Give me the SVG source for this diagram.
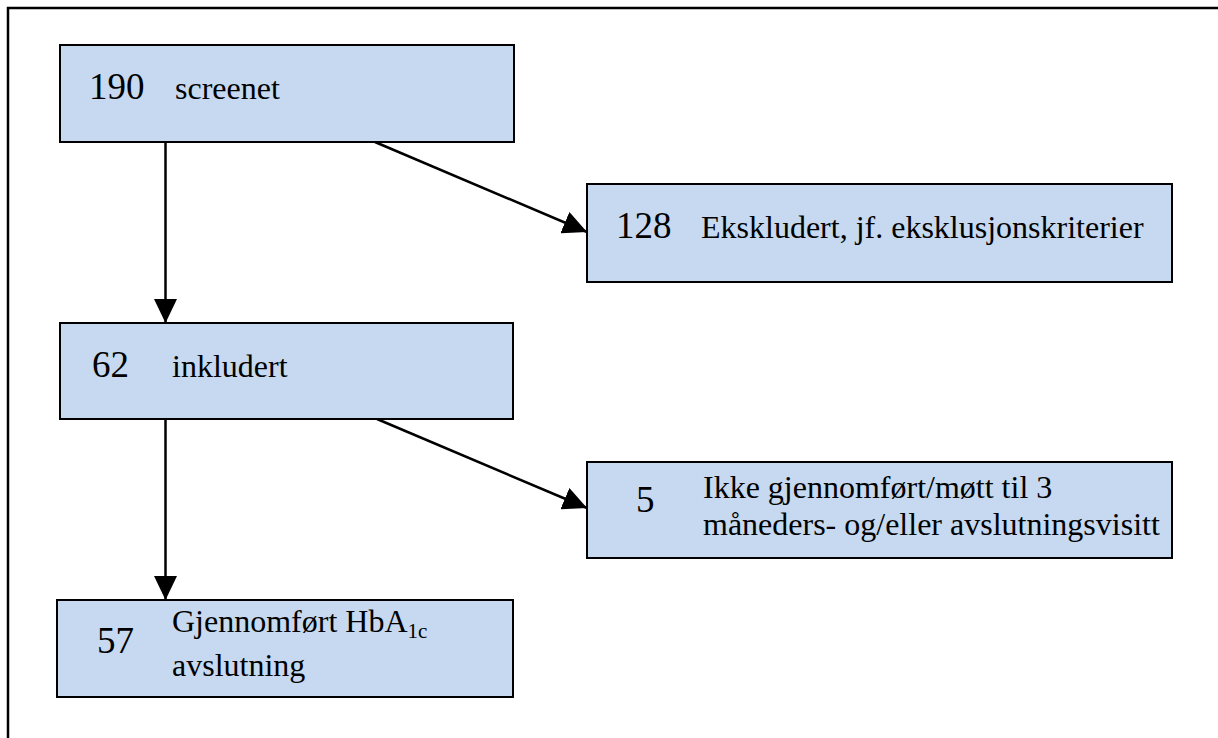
<svg xmlns="http://www.w3.org/2000/svg" width="1218" height="738" viewBox="0 0 1218 738">
<style>
.box{fill:#C6D9F0;stroke:#000;stroke-width:2}
.num{font-family:"Liberation Serif","Times New Roman",serif;font-size:37px;fill:#000}
.lbl{font-family:"Liberation Serif","Times New Roman",serif;font-size:32px;fill:#000}
.con{stroke:#000;stroke-width:2.5;fill:none}
</style>
<defs>
<marker id="arr" markerUnits="userSpaceOnUse" markerWidth="24" markerHeight="23" viewBox="0 0 24 23" refX="24" refY="11.5" orient="auto">
<path d="M0,0 L24,11.5 L0,23 Z" fill="#000"/>
</marker>
</defs>
<rect x="8" y="8" width="1240" height="760" fill="#fff" stroke="#000" stroke-width="2.5"/>
<g id="connectors">
<line class="con" x1="165.5" y1="142" x2="165.5" y2="323" marker-end="url(#arr)"/>
<line class="con" x1="375" y1="142" x2="587" y2="232" marker-end="url(#arr)"/>
<line class="con" x1="165.5" y1="419" x2="165.5" y2="600" marker-end="url(#arr)"/>
<line class="con" x1="377" y1="419" x2="587" y2="508" marker-end="url(#arr)"/>
</g>
<g id="n190">
<rect class="box" x="60" y="45" width="454" height="97"/>
<text class="num" x="89" y="99">190</text>
<text class="lbl" x="175" y="99">screenet</text>
</g>
<g id="n128">
<rect class="box" x="587" y="184" width="585" height="98"/>
<text class="num" x="616" y="238">128</text>
<text class="lbl" x="701" y="238">Ekskludert, jf. eksklusjonskriterier</text>
</g>
<g id="n62">
<rect class="box" x="60" y="323" width="453" height="96"/>
<text class="num" x="92" y="377">62</text>
<text class="lbl" x="172" y="377">inkludert</text>
</g>
<g id="n5">
<rect class="box" x="587" y="462" width="585" height="96"/>
<text class="num" x="636" y="512">5</text>
<text class="lbl" x="703" y="498">Ikke gjennomført/møtt til 3</text>
<text class="lbl" x="703" y="535">måneders- og/eller avslutningsvisitt</text>
</g>
<g id="n57">
<rect class="box" x="57" y="600" width="456" height="97"/>
<text class="num" x="97" y="653">57</text>
<text class="lbl" x="172" y="632">Gjennomført HbA<tspan font-size="21" dy="6">1c</tspan></text>
<text class="lbl" x="172" y="676">avslutning</text>
</g>
</svg>
